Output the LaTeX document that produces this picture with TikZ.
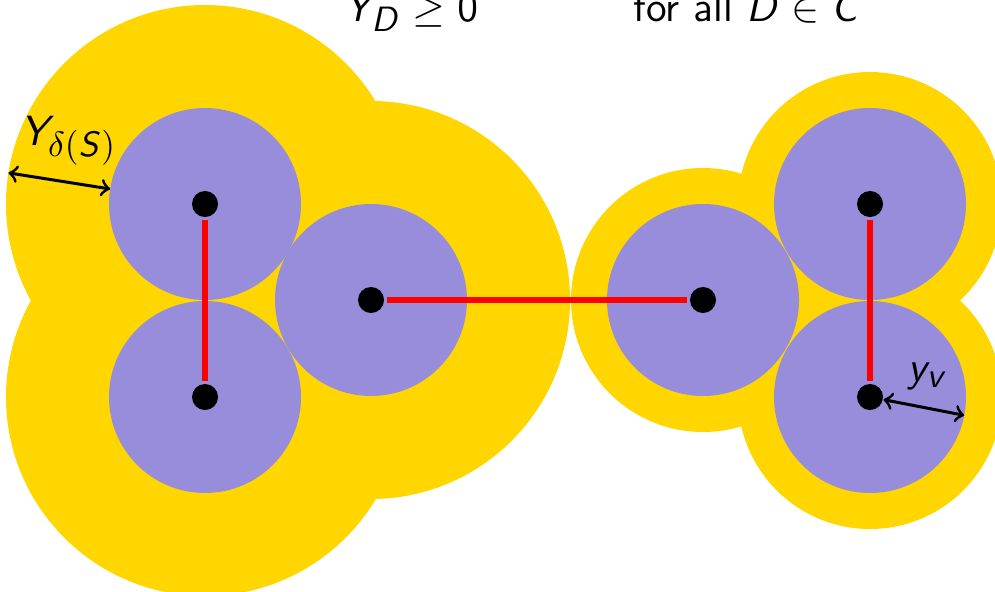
\documentclass[tikz,border=0pt]{standalone}
\usetikzlibrary{calc}
\definecolor{dualgold}{RGB}{255, 214, 0}
\definecolor{ballblue}{RGB}{151, 141, 219}
\DeclareMathAlphabet{\mathsfit}{OT1}{cmss}{m}{sl}
\DeclareMathSizes{12}{12}{9.6}{7.2}
\begin{document}
\begin{tikzpicture}[
    x=0.01cm, y=0.01cm,
    dot/.style={circle, fill=black, inner sep=0pt, minimum size=0.26cm},
    tight/.style={red, line width=1.9pt, shorten <=0.7pt, shorten >=0.7pt},
    measure/.style={<->, line width=0.85pt},
    lbl/.style={font=\fontsize{12}{14.4}\selectfont, inner sep=0pt},
  ]
    \clip (0,0) rectangle (995,-591);

    % === dual of the odd set S (big gold zone, left) ===
    \foreach \x/\y in {205/204, 205/397, 371/300} {
      \fill[dualgold] (\x,-\y) circle (199);
    }
    % === gold zone round the right set ===
    \foreach \x/\y in {703/300, 870/204, 870/397} {
      \fill[dualgold] (\x,-\y) circle (132);
    }

    % --- y_v balls ---
    \foreach \x/\y in {205/204, 205/397, 371/300, 703/300, 870/204, 870/397} {
      \fill[ballblue] (\x,-\y) circle (96);
    }

    % --- vertices ---
    \foreach \n/\x/\y in {a/205/204, b/205/397, c/371/300, d/703/300, e/870/204, f/870/397} {
      \node[dot] (\n) at (\x,-\y) {};
    }

    % tight edges
    \draw[tight] (a) -- (b);
    \draw[tight] (c) -- (d);
    \draw[tight] (e) -- (f);

    % === radii ===
    \coordinate (Yout) at ($(a.center)+(171:199)$);
    \coordinate (Yin) at ($(a.center)+(171:96)$);
    \draw[measure] (Yout) -- (Yin);
    \node[lbl, anchor=base west] (Ylab) at (20,-145) {$\mathsfit{Y}_{\delta\mathsf{(}\mathsfit{S}\mathsf{)}}$};

    \coordinate (yrim) at ($(f.center)+(-11:96)$);
    \draw[measure] (f) -- (yrim);
    \node[lbl, anchor=base west] (ylab) at (907,-381) {$\mathsfit{y}_{\mathsfit{v}}$};

    % constraint line (cut at the top)
    \node[lbl, anchor=base] (cons) at (411,-22) {$\mathsfit{Y}_{\mathsfit{D}} \geq \mathsf{0}$};
    \node[lbl, anchor=base] (forall) at (748,-22) {\textsf{for all} $\mathsfit{D} \in \mathsfit{C}$};
  \end{tikzpicture}
\end{document}
